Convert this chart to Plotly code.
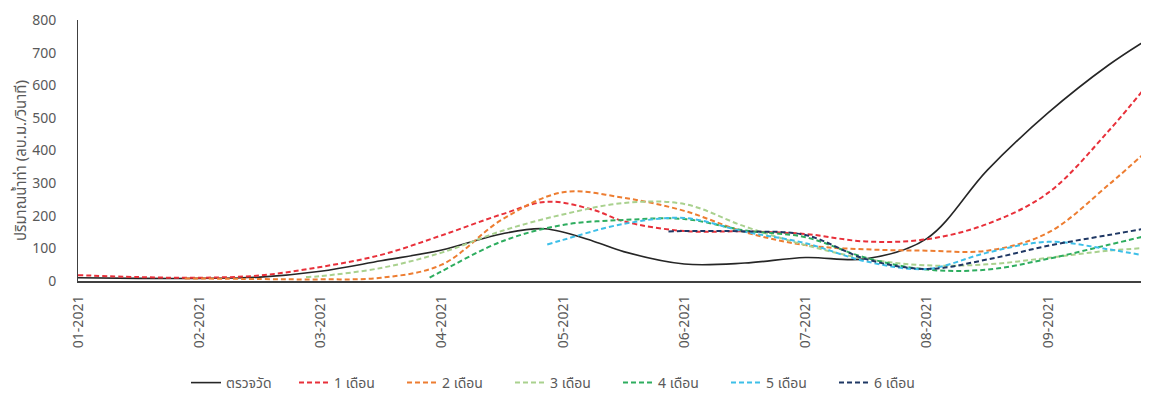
import plotly.graph_objects as go

# Tick labels (month index 0 = 01-2021)
month_labels = ["01-2021", "02-2021", "03-2021", "04-2021", "05-2021",
                "06-2021", "07-2021", "08-2021", "09-2021"]
month_pos = list(range(len(month_labels)))

# Observed flow (ตรวจวัด)
obs_t = [0, 0.5, 1, 1.5, 2, 2.5, 3, 3.5, 3.85, 4.25, 4.5, 5, 5.5, 6, 6.5, 7, 7.5, 8, 8.5, 8.84]
obs_v = [10, 8, 8, 12, 30, 62, 95, 145, 160, 122, 90, 52, 55, 72, 68, 130, 340, 515, 662, 745]

# Forecast 1 month
f1_t = [0, 0.5, 1, 1.5, 2, 2.5, 3, 3.5, 3.87, 4.25, 4.5, 5, 5.5, 6, 6.5, 7, 7.5, 8, 8.5, 8.84]
f1_v = [18, 12, 10, 17, 43, 80, 140, 205, 243, 218, 183, 153, 152, 144, 121, 128, 175, 270, 460, 611]

# Forecast 2 months
f2_t = [0.88, 1.5, 2, 2.5, 3, 3.5, 4, 4.5, 5, 5.5, 6, 6.5, 7, 7.5, 8, 8.5, 8.84]
f2_v = [8, 6, 5, 10, 50, 189, 272, 255, 215, 150, 110, 97, 93, 93, 148, 295, 407]

# Forecast 3 months
f3_t = [1.88, 2, 2.5, 3, 3.5, 4, 4.5, 5, 5.5, 6, 6.5, 7, 7.5, 8, 8.5, 8.84]
f3_v = [12, 15, 40, 87, 154, 204, 239, 236, 167, 110, 68, 48, 51, 71, 93, 102]

# Forecast 4 months
f4_t = [2.9, 3, 3.5, 4, 4.5, 5, 5.5, 6, 6.5, 7, 7.5, 8, 8.5, 8.84]
f4_v = [10, 30, 122, 172, 187, 190, 155, 134, 71, 35, 35, 68, 111, 141]

# Forecast 5 months
f5_t = [3.87, 4, 4.5, 5, 5.5, 6, 6.5, 7, 7.5, 8, 8.5, 8.84]
f5_v = [112, 126, 175, 193, 151, 116, 60, 37, 87, 120, 97, 75]

# Forecast 6 months
f6_t = [4.87, 5, 5.5, 6, 6.5, 7, 7.5, 8, 8.5, 8.84]
f6_v = [152, 153, 152, 141, 67, 37, 66, 108, 141, 163]

y_title = "ปริมาณน้ำท่า (ลบ.ม./วินาที)"

series = [
    ("ตรวจวัด", obs_t, obs_v, "#262626", "solid", 1.6),
    ("1 เดือน", f1_t, f1_v, "#E8303A", "5px,3px", 2),
    ("2 เดือน", f2_t, f2_v, "#ED7D31", "5px,3px", 2),
    ("3 เดือน", f3_t, f3_v, "#A9D18E", "5px,3px", 2),
    ("4 เดือน", f4_t, f4_v, "#2EAD5F", "5px,3px", 2),
    ("5 เดือน", f5_t, f5_v, "#3DBFE8", "5px,3px", 2),
    ("6 เดือน", f6_t, f6_v, "#1F3864", "5px,3px", 2),
]

FONT = "Noto Sans Thai, Tahoma, Noto Sans, DejaVu Sans, sans-serif"
GREY = "#595959"

fig = go.Figure()
for name, t, v, color, dash, w in series:
    fig.add_trace(go.Scatter(
        x=t, y=v, name=name, mode="lines",
        line=dict(color=color, width=w, dash=dash, shape="spline", smoothing=1.0),
    ))

# page body has an 8px default margin, so the figure is 8px smaller
W, H = 1141, 389
fig.update_layout(
    width=W, height=H,
    margin=dict(l=70, r=0, t=12, b=116),
    paper_bgcolor="white", plot_bgcolor="white",
    font=dict(family=FONT, size=14, color=GREY),
    showlegend=True,
    legend=dict(
        orientation="h", xref="container", yref="container",
        x=(564 - 8) / W, y=1 - (383 - 8) / H, xanchor="center", yanchor="middle",
        font=dict(family=FONT, size=14, color=GREY),
        itemwidth=30, entrywidth=63,
    ),
    annotations=[dict(
        text=y_title, textangle=-90, showarrow=False,
        xref="paper", yref="paper",
        x=(21 - 78) / 1071, y=(281 - 161) / 261,
        xanchor="center", yanchor="middle", borderpad=0,
        font=dict(family=FONT, size=15, color=GREY),
    )],
)
fig.update_xaxes(
    range=[0, 8.833], tickmode="array", tickvals=month_pos, ticktext=month_labels,
    tickangle=-90, showgrid=False, zeroline=False,
    showline=True, linecolor="#404040", linewidth=2,
    ticks="", ticklabelstandoff=7,
    tickfont=dict(family=FONT, size=14, color=GREY),
)
fig.update_yaxes(
    range=[0, 800], tickmode="linear", tick0=0, dtick=100,
    showgrid=False, zeroline=False,
    showline=True, linecolor="#404040", linewidth=1,
    ticks="", ticklabelstandoff=18,
    tickfont=dict(family=FONT, size=14, color=GREY),
)

fig.write_html("out.html")
